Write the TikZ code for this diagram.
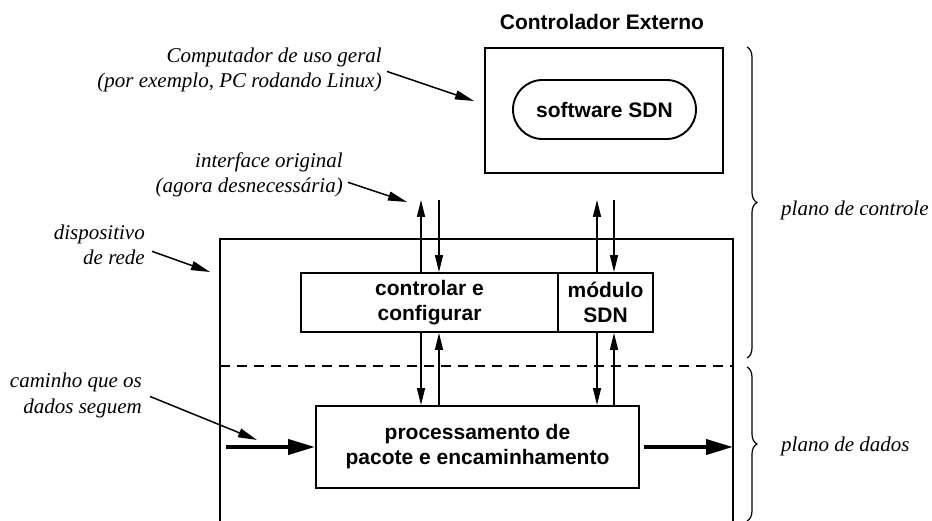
\documentclass[tikz,border=0pt]{standalone}
\usepackage{fontspec}
\setmainfont{Liberation Serif}
\newfontfamily\headfont{Liberation Sans}
\usetikzlibrary{arrows.meta,shapes.misc,decorations.pathreplacing,calc}

\begin{document}
\begin{tikzpicture}[x=1pt,y=-1pt,
  box/.style={draw, line width=1.9pt, inner sep=0pt, align=center,
    font=\headfont\bfseries\fontsize{21}{25}\selectfont},
  heading/.style={inner sep=0pt, font=\headfont\bfseries\fontsize{21}{25}\selectfont},
  note/.style={inner sep=0pt, align=right, font=\itshape\fontsize{21}{25}\selectfont},
  sig/.style={line width=1.4pt, -{Triangle[length=17pt,width=8pt]}},
  pointer/.style={line width=1.5pt, -{Triangle[length=19pt,width=9pt]}},
  flow/.style={line width=4pt, -{Triangle[length=27pt,width=15pt]}},
  plane/.style={decorate, decoration={brace, amplitude=10pt}, line width=1.2pt}]

\useasboundingbox (0,0) rectangle (932,521);

% external controller
\node[heading, anchor=base] (title) at (602,30) {Controlador Externo};
\node[box, minimum width=238pt, minimum height=125pt] (ctrl) at (604,110.5) {};
\node[box, rounded rectangle, minimum width=183pt, minimum height=59pt] (sw) at (604.5,109.5) {software SDN};

% network device outline (open at the bottom)
\coordinate (dbl) at (220,523);
\coordinate (dtl) at (220,239);
\coordinate (dtr) at (733,239);
\coordinate (dbr) at (733,523);
\draw[line width=1.9pt] (dbl) -- (dtl) -- (dtr) -- (dbr);

% control / data plane boundary
\coordinate (sl) at (220,366);
\coordinate (sr) at (733,366);
\draw[line width=1.2pt, dash pattern=on 10pt off 7pt] (sl) -- (sr);

% inner blocks
\node[box, minimum width=257pt, minimum height=59pt] (cfg) at (429.5,302.5) {controlar e\\configurar};
\node[box, minimum width=95pt, minimum height=59pt] (mod) at (605.5,302.5) {módulo\\SDN};
\node[box, minimum width=323pt, minimum height=82pt] (proc) at (477.5,447) {processamento de\\pacote e encaminhamento};

% vertical signal columns
\coordinate (a1) at (421,200);
\coordinate (a2) at (439,200);
\coordinate (a3) at (597,200);
\coordinate (a4) at (614,200);

\draw[sig] (cfg.north -| a1) -- (a1);
\draw[sig] (a2) -- (cfg.north -| a2);
\draw[sig] (mod.north -| a3) -- (a3);
\draw[sig] (a4) -- (mod.north -| a4);

\draw[sig] (cfg.south -| a1) -- (proc.north -| a1);
\draw[sig] (proc.north -| a2) -- (cfg.south -| a2);
\draw[sig] (mod.south -| a3) -- (proc.north -| a3);
\draw[sig] (proc.north -| a4) -- (mod.south -| a4);

% data path
\coordinate (din) at (226,447);
\coordinate (dout) at (733,447);
\draw[flow] (din) -- (proc.west);
\draw[flow, shorten <=4pt] (proc.east) -- (dout);

% plane braces
\draw[plane] (747,47) -- (747,358);
\draw[plane] (747,367) -- (747,521);
\node[note, anchor=base west] (cp) at (781,216) {plano de controle};
\node[note, anchor=base west] (dp) at (781,451) {plano de dados};

% annotations (base anchor = baseline of the last line)
\node[note, anchor=base east] (pc) at (382,88) {Computador de uso geral\\(por exemplo, PC rodando Linux)};
\coordinate (pcTip) at (474,101);
\draw[pointer] ($(pc.east)+(5,1)$) -- (pcTip);

\node[note, anchor=base east] (io) at (343,193) {interface original\\(agora desnecessária)};
\coordinate (ioTip) at (407,202);
\draw[pointer] ($(io.east)+(5,7)$) -- (ioTip);

\node[note, anchor=base east] (dv) at (145,265) {dispositivo\\de rede};
\coordinate (dvTip) at (210,272);
\draw[pointer] ($(dv.east)+(7,6)$) -- (dvTip);

\node[note, anchor=base east] (cm) at (142,413) {caminho que os\\dados seguem};
\coordinate (cmTip) at (257,440);
\draw[pointer] ($(cm.east)+(8,1)$) -- (cmTip);

\end{tikzpicture}
\end{document}
